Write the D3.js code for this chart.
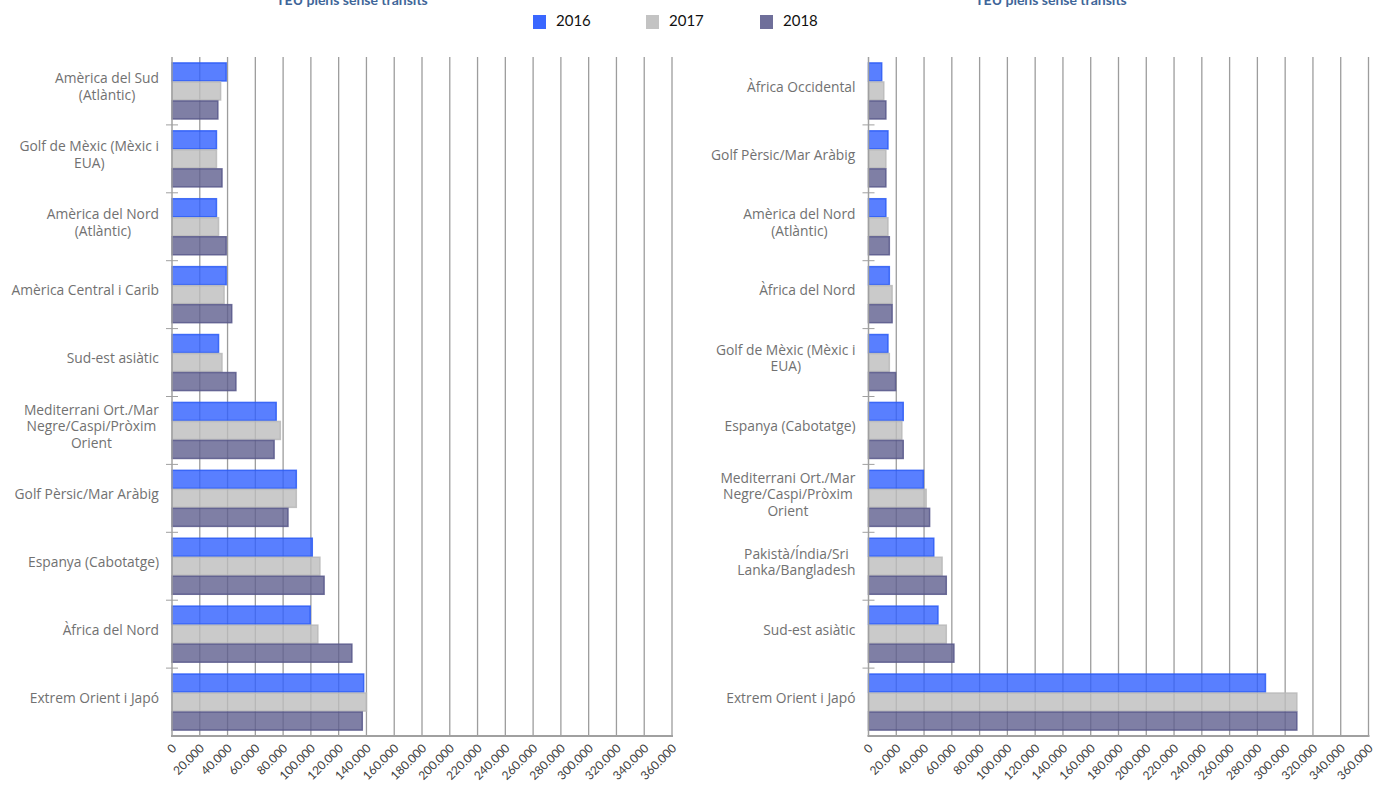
<!DOCTYPE html>
<html>
<head>
<meta charset="utf-8">
<script src="https://cdn.jsdelivr.net/npm/d3@7"></script>
<style>
  html, body { margin: 0; padding: 0; background: #fff; }
  svg { display: block; }
</style>
</head>
<body>
<svg id="chart" width="1376" height="787"></svg>
<script>
// Full containers (TEU) without transit, by maritime area, 2016-2018
const seriesYears = ["2016", "2017", "2018"];
const seriesColors = ["#2f5fff", "#bdbdbd", "#5f5f8f"];
const seriesStrokes = ["#2a5af5", "#b8b8b8", "#57578a"];

const leftCategories = [
  "Amèrica del Sud\n(Atlàntic)",
  "Golf de Mèxic (Mèxic i\nEUA)",
  "Amèrica del Nord\n(Atlàntic)",
  "Amèrica Central i Carib",
  "Sud-est asiàtic",
  "Mediterrani Ort./Mar\nNegre/Caspi/Pròxim\nOrient",
  "Golf Pèrsic/Mar Aràbig",
  "Espanya (Cabotatge)",
  "Àfrica del Nord",
  "Extrem Orient i Japó"
];
const left2016 = [39000, 32000, 32000, 39000, 33500, 75000, 89500, 101000, 99500, 138000];
const left2017 = [35000, 32000, 33500, 37500, 36000, 78000, 89500, 106500, 105000, 140000];
const left2018 = [33000, 36000, 39000, 43000, 46000, 73500, 83500, 109500, 129500, 137000];

const rightCategories = [
  "Àfrica Occidental",
  "Golf Pèrsic/Mar Aràbig",
  "Amèrica del Nord\n(Atlàntic)",
  "Àfrica del Nord",
  "Golf de Mèxic (Mèxic i\nEUA)",
  "Espanya (Cabotatge)",
  "Mediterrani Ort./Mar\nNegre/Caspi/Pròxim\nOrient",
  "Pakistà/Índia/Sri\nLanka/Bangladesh",
  "Sud-est asiàtic",
  "Extrem Orient i Japó"
];
const right2016 = [9500, 14000, 12500, 15000, 14000, 25000, 39500, 47000, 50000, 285800];
const right2017 = [11000, 12500, 14000, 17000, 15000, 24000, 41500, 53000, 56000, 308400];
const right2018 = [12500, 12500, 15000, 17000, 19500, 25000, 44000, 56000, 61500, 308400];

const tickValues = d3.range(0, 360001, 20000);
const chartTitle = "TEU plens sense transits";

const locale = d3.formatLocale({ decimal: ",", thousands: ".", grouping: [3], currency: ["", " €"] });
const fmt = locale.format(",.0f");

const svg = d3.select("#chart");

function drawPanel(opts) {
  const { x0, x1, y0, y1, categories, values, titleX } = opts;
  const g = svg.append("g");

  const x = d3.scaleLinear().domain([0, 360000]).range([x0, x1]);
  const y = d3.scaleBand().domain(categories).range([y0, y1]).paddingInner(0.16).paddingOuter(0.08);
  const ySub = d3.scaleBand().domain(seriesYears).range([0, y.bandwidth()]).padding(0);
  const step = y.step();

  // title (sits at the very top edge)
  svg.append("text")
    .attr("x", titleX).attr("y", 5)
    .attr("text-anchor", "middle")
    .attr("font-family", "Lato, sans-serif")
    .attr("font-weight", "bold")
    .attr("font-size", 14)
    .attr("fill", "#3f6699")
    .text(chartTitle);

  // vertical gridlines
  g.append("g").selectAll("line").data(tickValues.slice(1)).join("line")
    .attr("x1", d => x(d)).attr("x2", d => x(d))
    .attr("y1", y0).attr("y2", y1)
    .attr("stroke", "#9d9d9d").attr("stroke-width", 1.3);

  // bars
  const rows = categories.map((c, i) => ({ c, vals: values.map(v => v[i]) }));
  const grp = g.append("g").selectAll("g").data(rows).join("g")
    .attr("transform", d => `translate(0,${y(d.c)})`);
  grp.selectAll("rect").data(d => d.vals.map((v, k) => ({ v, k }))).join("rect")
    .attr("x", x(0))
    .attr("y", d => ySub(seriesYears[d.k]) + 0.5)
    .attr("width", d => x(d.v) - x(0))
    .attr("height", ySub.bandwidth() - 1)
    .attr("fill", d => seriesColors[d.k])
    .attr("fill-opacity", 0.8)
    .attr("stroke", d => seriesStrokes[d.k])
    .attr("stroke-opacity", 0.85)
    .attr("stroke-width", 1.5);

  // axes lines
  g.append("line").attr("x1", x0).attr("x2", x0).attr("y1", y0).attr("y2", y1)
    .attr("stroke", "#a0a0a0").attr("stroke-width", 1.5);
  g.append("line").attr("x1", x0 - 1).attr("x2", x1 + 1).attr("y1", y1).attr("y2", y1)
    .attr("stroke", "#a0a0a0").attr("stroke-width", 2);

  // category separators on the value axis
  g.append("g").selectAll("line").data(d3.range(1, categories.length)).join("line")
    .attr("x1", x0 - 6).attr("x2", x0 + 6)
    .attr("y1", i => y0 + i * step).attr("y2", i => y0 + i * step)
    .attr("stroke", "#a0a0a0").attr("stroke-width", 1);

  // x tick labels, rotated
  g.append("g").selectAll("text").data(tickValues).join("text")
    .attr("transform", d => `translate(${x(d) + 3},${y1 + 11}) rotate(-45)`)
    .attr("text-anchor", "end")
    .attr("dominant-baseline", "middle")
    .attr("font-family", "Lato, sans-serif")
    .attr("font-size", 12)
    .attr("fill", "#404040")
    .text(d => fmt(d));

  // category labels (lines centred within a right-aligned block)
  const labelRight = x0 - 13;
  const lineH = 16.5;
  categories.forEach((c) => {
    const lines = c.split("\n");
    const t = g.append("text")
      .attr("font-family", "'Open Sans', sans-serif")
      .attr("font-size", 13.8)
      .attr("fill", "#717171")
      .attr("text-anchor", "middle");
    const cy = y(c) + y.bandwidth() / 2 - 3;
    lines.forEach((ln, j) => {
      t.append("tspan").attr("x", 0)
        .attr("y", cy + (j - (lines.length - 1) / 2) * lineH)
        .attr("dominant-baseline", "middle")
        .text(ln);
    });
    const w = t.node().getBBox().width;
    t.attr("transform", `translate(${labelRight - w / 2},0)`);
  });
}

drawPanel({ x0: 172, x1: 672, y0: 57, y1: 736, categories: leftCategories,
  values: [left2016, left2017, left2018], titleX: 352 });
drawPanel({ x0: 868.5, x1: 1368.5, y0: 57, y1: 736, categories: rightCategories,
  values: [right2016, right2017, right2018], titleX: 1051 });

// legend
const legendX = [533, 646, 760];
const legend = svg.append("g").selectAll("g").data(seriesYears).join("g")
  .attr("transform", (d, i) => `translate(${legendX[i]},15)`);
legend.append("rect").attr("width", 13).attr("height", 14)
  .attr("fill", (d, i) => seriesColors[i]).attr("fill-opacity", (d, i) => i === 0 ? 0.95 : 0.9);
legend.append("text").attr("x", 23).attr("y", 7).attr("dominant-baseline", "middle")
  .attr("font-family", "Lato, sans-serif").attr("font-size", 15).attr("fill", "#111")
  .text(d => d);
</script>
</body>
</html>
